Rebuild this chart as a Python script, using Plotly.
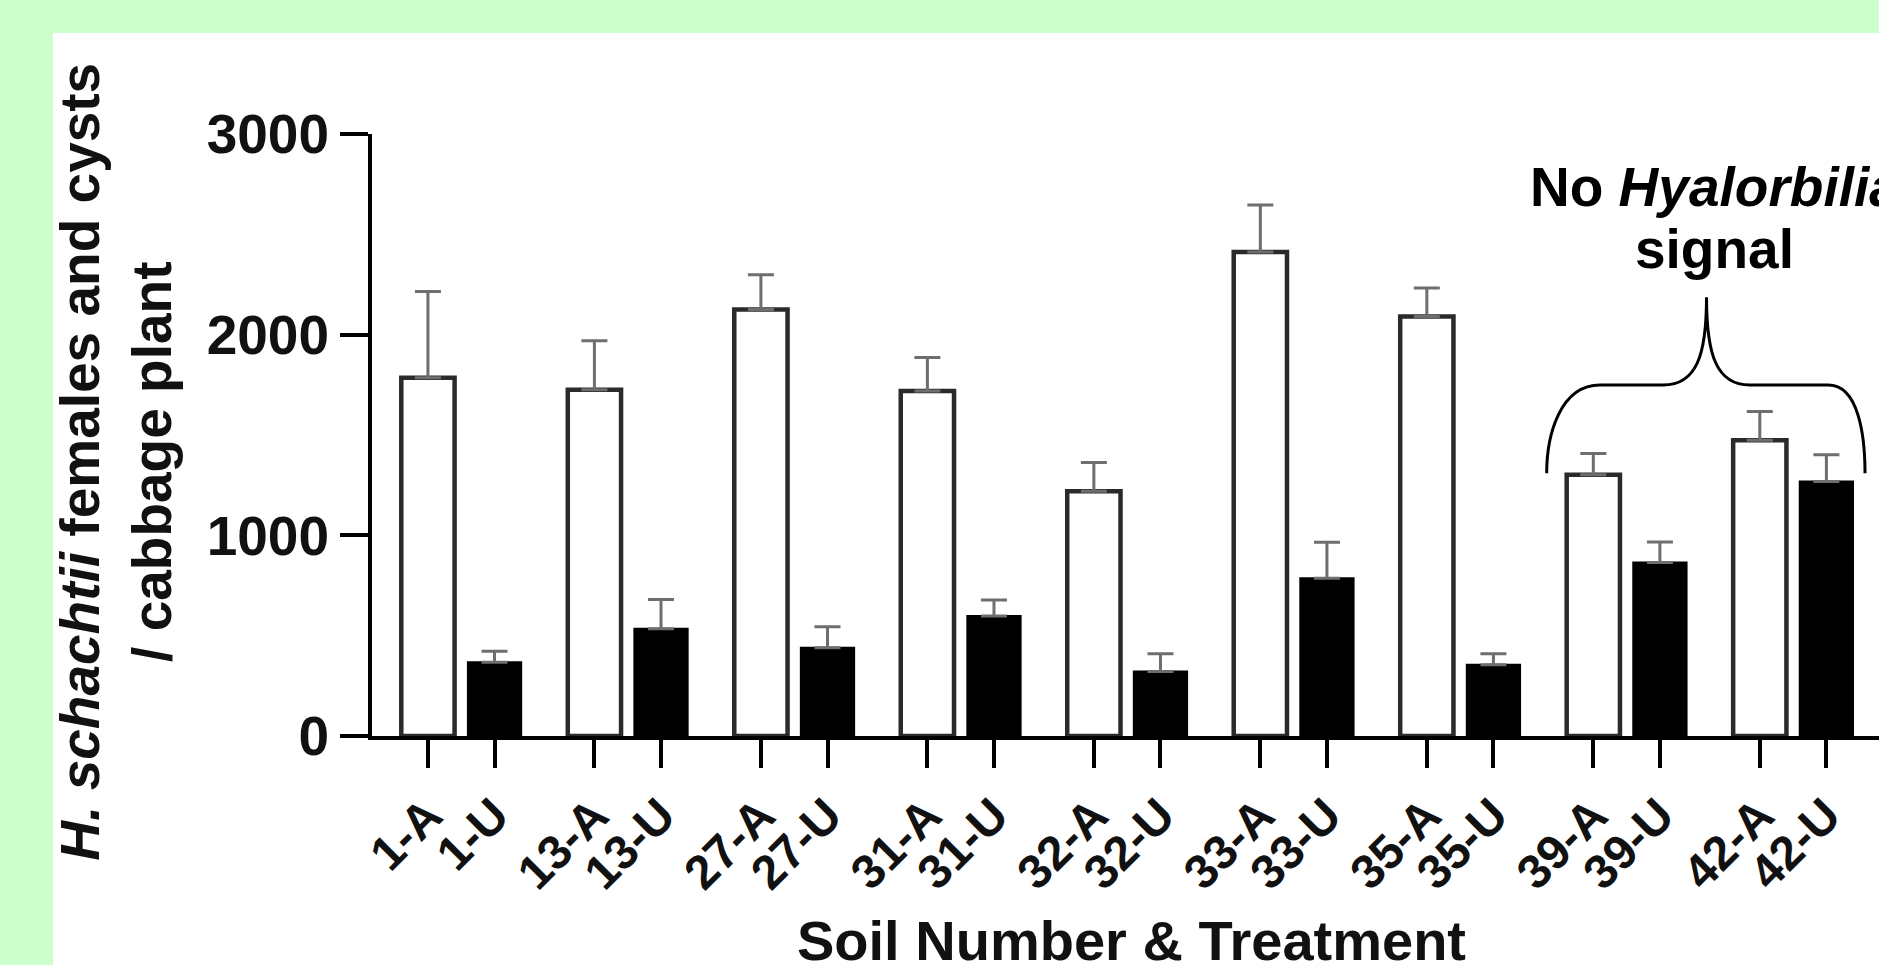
import plotly.graph_objects as go

# ---------------- data ----------------
soils = ["1", "13", "27", "31", "32", "33", "35", "39", "42"]
amended = [1785, 1725, 2126, 1719, 1220, 2412, 2090, 1302, 1474]
amended_err = [430, 245, 173, 167, 143, 234, 143, 106, 143]
unamended = [367, 535, 440, 598, 322, 786, 355, 865, 1268]
unamended_err = [55, 145, 105, 80, 88, 180, 55, 102, 133]
y_ticks = [0, 1000, 2000, 3000]
no_signal_soils = ["39", "42"]

# ---------------- layout helpers ----------------
GROUP_STEP = 2.5
x_a = [i * GROUP_STEP for i in range(len(soils))]
x_u = [x + 1 for x in x_a]
lab_a = [f"{s}-A" for s in soils]
lab_u = [f"{s}-U" for s in soils]
tickvals = []
ticktext = []
for xa, xu, la, lu in zip(x_a, x_u, lab_a, lab_u):
    tickvals += [xa, xu]
    ticktext += [la, lu]

FONT = "Liberation Sans, Arial, Helvetica, sans-serif"
TXT = "#111111"

fig = go.Figure()
fig.add_trace(go.Bar(
    x=x_a, y=amended, width=0.8,
    marker=dict(color="white", line=dict(color="#2a2a2a", width=4.5)),
    error_y=dict(type="data", array=amended_err, arrayminus=[0] * len(soils),
                 symmetric=False, color="#6e6e6e", thickness=3, width=13),
    showlegend=False,
))
fig.add_trace(go.Bar(
    x=x_u, y=unamended, width=0.8,
    marker=dict(color="black", line=dict(color="black", width=2)),
    error_y=dict(type="data", array=unamended_err, arrayminus=[0] * len(soils),
                 symmetric=False, color="#6e6e6e", thickness=3, width=13),
    showlegend=False,
))

# bracket over the soils without signal
i0 = soils.index(no_signal_soils[0])
i1 = soils.index(no_signal_soils[-1])
L = x_a[i0] - 0.7
R = x_u[i1] + 0.58
M = (x_a[i0] + x_u[i1]) / 2 - 0.05
y_end, y_bar, y_tip = 1310, 1749, 2187
path = (
    f"M {L},{y_end} "
    f"C {L},{y_bar - 250} {L + 0.2},{y_bar} {L + 0.8},{y_bar} "
    f"L {M - 0.65},{y_bar} "
    f"C {M - 0.15},{y_bar} {M},{y_bar + 150} {M},{y_tip} "
    f"C {M},{y_bar + 150} {M + 0.15},{y_bar} {M + 0.65},{y_bar} "
    f"L {R - 0.55},{y_bar} "
    f"C {R - 0.1},{y_bar} {R},{y_bar - 250} {R},{y_end}"
)
shapes = [
    dict(type="rect", xref="paper", yref="paper", x0=-0.2117, x1=1.2,
         y0=-0.6, y1=1.1678, fillcolor="white", line=dict(width=0), layer="below"),
    dict(type="path", xref="x", yref="y", path=path,
         line=dict(color="black", width=3)),
]

annotations = [
    dict(text="<i>H. schachtii</i> females and cysts<br>/ cabbage plant",
         xref="paper", yref="paper", x=-0.1695, y=0.455, textangle=-90,
         xanchor="center", yanchor="middle", showarrow=False,
         font=dict(family=FONT, size=55, color=TXT, weight="bold")),
    dict(text="Soil Number &amp; Treatment", xref="paper", yref="paper",
         x=0.5043, y=-0.339, xanchor="center", yanchor="middle", showarrow=False,
         font=dict(family=FONT, size=56, color=TXT, weight="bold")),
    dict(text="No <i>Hyalorbilia</i>", xref="x", yref="y", x=M + 0.12, y=2735,
         xanchor="center", yanchor="middle", showarrow=False,
         font=dict(family=FONT, size=55, color="black", weight="bold")),
    dict(text="signal", xref="x", yref="y", x=M + 0.12, y=2427,
         xanchor="center", yanchor="middle", showarrow=False,
         font=dict(family=FONT, size=55, color="black", weight="bold")),
]

fig.update_layout(
    width=1879, height=965,
    margin=dict(l=372, r=0, t=134, b=229, pad=0),
    paper_bgcolor="#ccffcc", plot_bgcolor="white",
    barmode="overlay", shapes=shapes, annotations=annotations,
    xaxis=dict(range=[-0.84, 21.79], showgrid=False, zeroline=False,
               showline=True, linecolor="black", linewidth=4,
               ticks="outside", ticklen=28, tickwidth=4, tickcolor="black",
               tickvals=tickvals, ticktext=ticktext, tickangle=-45,
               tickfont=dict(family=FONT, size=48, color=TXT, weight="bold"),
               automargin=False),
    yaxis=dict(range=[0, 3000], showgrid=False, zeroline=False,
               showline=True, linecolor="black", linewidth=4,
               ticks="outside", ticklen=28, tickwidth=4, tickcolor="black",
               tickvals=y_ticks, ticktext=[str(v) for v in y_ticks],
               tickfont=dict(family=FONT, size=55, color=TXT, weight="bold"),
               automargin=False),
)

fig.write_html("out.html", config={"displayModeBar": False},
               post_script="document.body.style.margin='0';document.body.style.overflow='hidden';")
